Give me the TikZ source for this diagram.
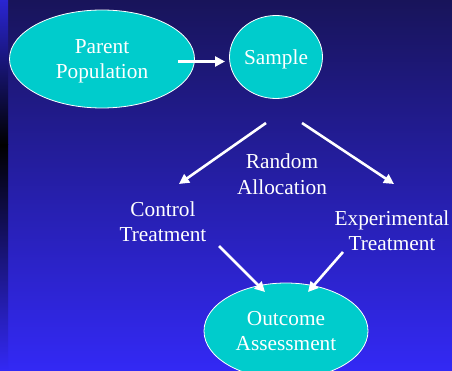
\documentclass[tikz,border=0pt]{standalone}
\usepackage{fontspec}
\setmainfont{Liberation Serif}
\usetikzlibrary{shapes.geometric,arrows.meta}
\definecolor{bgtop}{RGB}{24,20,90}
\definecolor{bgbot}{RGB}{51,41,245}
\definecolor{striptop}{RGB}{42,37,210}
\definecolor{blobfill}{RGB}{0,204,204}

\begin{document}
\begin{tikzpicture}[x=1pt,y=-1pt,
    txt/.style={text=white, align=center, inner sep=0pt, font=\fontsize{21.3}{25.5}\selectfont},
    blob/.style={txt, ellipse, draw=white, line width=0.8pt, fill=blobfill},
    arr/.style={draw=white, line width=2.6pt, -{Triangle[length=10pt,width=10pt]}}]
  \useasboundingbox (0,0) rectangle (452,371);
  % backdrop, dark at the top
  \shade[top color=bgtop, bottom color=bgbot] (0,0) rectangle (452,371);
  \shade[top color=striptop, bottom color=black] (0,0) rectangle (8,145);
  \shade[top color=black, bottom color=bgbot] (0,145) rectangle (8,371);

  \node[blob, text depth=0pt, minimum width=185pt, minimum height=98pt] (parent) at (102,59) {Parent\\Population};
  \node[blob, text depth=0pt, minimum width=93pt, minimum height=83pt] (sample) at (276,57) {Sample};
  \node[txt] (random) at (282,174) {Random\\Allocation};
  \node[txt] (control) at (163,221.5) {Control\\Treatment};
  \node[txt] (exper) at (392,230.5) {Experimental\\Treatment};
  \node[blob, minimum width=164pt, minimum height=96pt] (outcome) at (286,331) {Outcome\\Assessment};

  % free ends of the arrows
  \coordinate (parentR) at (178,61.5);
  \coordinate (sampleL) at (225,61.5);
  \coordinate (splitL) at (266,123);
  \coordinate (splitR) at (302,123);
  \coordinate (controlTip) at (179,184);
  \coordinate (experTip) at (394,184);
  \coordinate (controlOut) at (219,246);
  \coordinate (experOut) at (343,252);
  \coordinate (outcomeL) at (265,292);
  \coordinate (outcomeR) at (308,292);

  \draw[arr] (parentR) -- (sampleL);
  \draw[arr] (splitL) -- (controlTip);
  \draw[arr] (splitR) -- (experTip);
  \draw[arr] (controlOut) -- (outcomeL);
  \draw[arr] (experOut) -- (outcomeR);
\end{tikzpicture}
\end{document}
